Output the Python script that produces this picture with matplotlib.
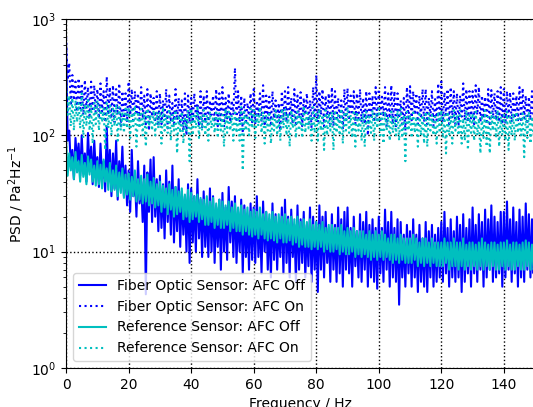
import numpy as np
import matplotlib
matplotlib.use("Agg")
import matplotlib.pyplot as plt

# ========== data (0.5 Hz steps) ==========
freq = np.arange(301) * 0.5

# fiber optic sensor, AFC off (blue solid)
fo_off = [600, 90, 110, 55, 75, 42, 95, 60, 85, 45,
          100, 48, 70, 40, 105, 52, 80, 38, 90, 50,
          65, 36, 85, 42, 60, 33, 120, 40, 75, 30,
          70, 35, 90, 28, 60, 38, 80, 30, 55, 25,
          50, 22, 75, 30, 45, 20, 60, 26, 40, 18,
          55, 4.3, 48, 22, 62, 18, 65, 20, 42, 15,
          45, 16, 38, 13, 50, 18, 40, 14, 55, 12,
          36, 15, 42, 11, 33, 14, 30, 10, 38, 8,
          35, 12, 30, 10, 42, 13, 28, 9, 33, 11,
          26, 9, 35, 10, 30, 8, 24, 11, 28, 7,
          32, 10, 24, 8.5, 36, 12, 27, 9, 30, 8,
          22, 10, 28, 6.5, 25, 9, 20, 7, 26, 8.5,
          24, 8, 30, 9, 20, 6.5, 27, 10, 22, 7,
          19, 6, 26, 8.5, 21, 7, 18, 9, 24, 6.5,
          28, 8, 20, 6, 23, 9, 17, 5.5, 25, 7,
          19, 8, 22, 6, 17, 7.5, 24, 5.5, 20, 7,
          18, 4.5, 25, 7, 20, 6, 22, 8, 16, 5.5,
          21, 7, 17, 5.5, 24, 6.5, 19, 5, 22, 7,
          24, 6.5, 16, 5, 20, 7.5, 15, 6, 21, 5.5,
          18, 7, 22, 5, 17, 6, 19, 5.5, 16, 4.8,
          20, 6.5, 16, 5.5, 23, 7, 18, 5, 22, 6,
          16, 5.5, 19, 3.5, 18, 6, 14, 5, 17, 6.5,
          15, 5, 19, 6, 14, 4.5, 17, 5.5, 13, 5,
          18, 4.5, 15, 6, 17, 5, 14, 5.5, 16, 6,
          18, 5.5, 22, 6.5, 16, 5, 19, 6, 15, 5.5,
          20, 6, 17, 4.5, 21, 5.5, 16, 6.5, 19, 5,
          24, 6.5, 17, 5.5, 21, 7, 18, 5, 23, 6,
          19, 7, 25, 5.5, 20, 6, 18, 6.5, 22, 5,
          22, 6, 27, 7, 19, 5.5, 24, 6.5, 18, 5,
          23, 6, 20, 5.5, 26, 7, 21, 6, 19, 6.5,
          21]

# fiber optic sensor, AFC on (blue dotted)
fo_on = [700, 300, 420, 180, 330, 200, 290, 160, 310, 170,
         280, 150, 300, 170, 260, 140, 290, 160, 270, 150,
         250, 140, 280, 160, 240, 130, 320, 150, 260, 140,
         270, 130, 250, 150, 280, 120, 240, 140, 230, 130,
         290, 150, 250, 135, 240, 150, 230, 130, 260, 140,
         220, 120, 250, 110, 230, 145, 210, 130, 240, 120,
         230, 125, 200, 140, 250, 115, 220, 130, 190, 120,
         250, 135, 210, 125, 200, 110, 230, 100, 220, 130,
         210, 130, 230, 145, 190, 120, 240, 115, 220, 130,
         240, 125, 200, 150, 220, 130, 250, 120, 230, 135,
         260, 120, 210, 140, 230, 130, 200, 150, 380, 130,
         240, 130, 220, 105, 210, 125, 190, 140, 230, 130,
         250, 125, 200, 150, 230, 130, 270, 120, 220, 140,
         215, 120, 240, 140, 200, 130, 190, 110, 240, 135,
         240, 130, 260, 145, 210, 125, 250, 120, 220, 140,
         235, 120, 210, 150, 230, 125, 200, 115, 260, 140,
         330, 130, 240, 150, 250, 120, 220, 140, 230, 125,
         260, 120, 240, 140, 210, 130, 200, 115, 250, 135,
         255, 135, 220, 150, 240, 125, 230, 140, 250, 130,
         210, 125, 240, 100, 230, 140, 220, 130, 260, 135,
         250, 130, 215, 145, 260, 120, 230, 140, 270, 125,
         240, 120, 230, 140, 200, 125, 210, 110, 260, 135,
         265, 135, 240, 150, 230, 125, 220, 140, 250, 130,
         250, 125, 210, 145, 240, 120, 205, 135, 280, 130,
         290, 130, 235, 150, 250, 125, 260, 140, 240, 125,
         230, 120, 220, 145, 280, 135, 250, 130, 240, 140,
         240, 125, 270, 150, 260, 130, 220, 140, 215, 125,
         250, 120, 245, 140, 230, 135, 240, 130, 260, 125,
         250, 125, 240, 145, 235, 130, 230, 140, 220, 135,
         260, 130, 255, 140, 220, 125, 215, 135, 240, 130,
         230]

# reference sensor, AFC off (cyan solid)
ref_off = [90, 45, 70, 50, 65, 42, 72, 48, 60, 40,
           68, 44, 58, 38, 66, 46, 62, 40, 55, 37,
           60, 38, 56, 35, 62, 40, 52, 34, 58, 33,
           50, 34, 55, 30, 48, 32, 52, 29, 46, 31,
           47, 28, 44, 30, 50, 27, 42, 28, 45, 26,
           42, 27, 46, 25, 40, 26, 43, 24, 38, 25,
           40, 22, 37, 24, 35, 21, 38, 23, 34, 20,
           36, 21, 33, 22, 35, 19, 31, 20, 34, 18,
           32, 19, 30, 20, 31, 18, 29, 19, 28, 17,
           30, 17, 27, 18, 29, 16, 26, 17, 28, 16,
           27, 16, 25, 17, 27, 15, 24, 16, 26, 15,
           24, 15, 25, 14, 23, 15, 24, 14, 22, 13.5,
           23, 14, 22, 13, 24, 14, 21, 13, 22, 12.5,
           21, 13, 22, 12.5, 20, 12, 21, 13, 20, 12,
           21, 12, 19, 12.5, 20, 11.5, 19, 12, 20, 11,
           18, 11.5, 19, 11, 18, 11, 19, 10.5, 17, 11,
           18, 10.5, 17, 11, 18, 10, 16, 10.5, 17, 10,
           17, 10, 16, 10.5, 16, 9.5, 17, 10, 15, 9.5,
           16, 9.5, 15, 10, 16, 9, 15, 9.5, 15, 9,
           15, 9.5, 14, 9, 15, 8.5, 14, 9, 15, 8.5,
           14, 9, 15, 8.5, 14, 9, 13, 8.5, 14, 8,
           14, 8.5, 13, 8, 14, 8.5, 13, 8, 13, 8,
           13, 8, 14, 8.5, 13, 7.5, 12, 8, 13, 7.5,
           13, 8, 12, 7.5, 13, 8, 12, 7.5, 12, 7.5,
           12, 7.5, 13, 8, 12, 7, 12, 7.5, 13, 7.5,
           12, 7, 12, 7.5, 13, 7, 11.5, 7.5, 12, 7,
           12, 7.5, 11.5, 7, 12, 7.5, 13, 7, 12, 7.5,
           11.5, 7, 12, 7.5, 12, 7, 11.5, 7, 12, 7.5,
           12, 7, 12.5, 7.5, 11.5, 7, 12, 7, 12, 7.5,
           11.5, 7, 12, 7, 12.5, 7.5, 12, 7, 11.5, 7,
           8]

# reference sensor, AFC on (cyan dotted)
ref_on = [300, 150, 220, 120, 210, 110, 200, 130, 190, 115,
          230, 95, 185, 120, 210, 110, 180, 85, 190, 125,
          200, 110, 175, 130, 170, 75, 190, 115, 180, 100,
          170, 120, 185, 90, 175, 110, 160, 105, 170, 115,
          175, 95, 165, 120, 180, 80, 160, 115, 170, 100,
          160, 80, 170, 120, 150, 110, 165, 100, 160, 115,
          160, 85, 175, 110, 150, 105, 170, 90, 150, 110,
          165, 70, 150, 105, 160, 85, 140, 110, 165, 60,
          170, 100, 155, 115, 180, 95, 150, 110, 165, 100,
          150, 90, 160, 115, 145, 105, 165, 95, 155, 110,
          150, 80, 170, 105, 160, 110, 150, 90, 165, 105,
          145, 90, 175, 50, 160, 110, 150, 100, 170, 115,
          165, 95, 150, 120, 175, 105, 160, 85, 150, 110,
          160, 85, 140, 110, 165, 100, 150, 90, 170, 115,
          170, 100, 155, 80, 165, 115, 150, 95, 160, 110,
          150, 95, 180, 105, 165, 115, 150, 90, 175, 105,
          160, 90, 170, 110, 150, 75, 165, 100, 155, 110,
          160, 75, 165, 105, 150, 100, 170, 85, 160, 110,
          175, 105, 150, 95, 165, 80, 160, 110, 145, 90,
          155, 80, 160, 110, 145, 105, 165, 90, 155, 115,
          170, 100, 155, 85, 160, 110, 145, 90, 160, 105,
          145, 100, 165, 90, 170, 95, 150, 60, 160, 110,
          150, 95, 165, 105, 145, 80, 160, 100, 150, 85,
          160, 80, 155, 110, 150, 100, 145, 85, 160, 105,
          165, 95, 150, 70, 160, 100, 145, 85, 165, 110,
          150, 100, 165, 85, 140, 90, 165, 75, 150, 105,
          155, 90, 160, 100, 140, 70, 150, 95, 165, 80,
          145, 70, 160, 110, 150, 95, 165, 80, 145, 100,
          150, 90, 160, 75, 145, 100, 155, 90, 160, 105,
          140, 100, 155, 65, 150, 95, 160, 85, 145, 100,
          150]

labels = ["Fiber Optic Sensor: AFC Off", "Fiber Optic Sensor: AFC On",
          "Reference Sensor: AFC Off", "Reference Sensor: AFC On"]

fig = plt.figure(figsize=(5.33, 4.07), dpi=100)
ax = fig.add_axes([0.124, 0.096, 0.88, 0.857])

ax.plot(freq, fo_off, color="b", lw=1.5, label=labels[0])
ax.plot(freq, fo_on, color="b", ls=":", lw=1.5, label=labels[1])
ax.plot(freq, ref_off, color="c", lw=1.5, label=labels[2])
ax.plot(freq, ref_on, color="c", ls=":", lw=1.5, label=labels[3])

ax.set_yscale("log")
ax.set_ylim(1, 1000)
ax.set_xlim(0, 150)
ax.set_xticks(np.arange(0, 141, 20))
ax.grid(True, which="major", color="k", ls=":", lw=1)
ax.set_xlabel("Frequency / Hz")
ax.set_ylabel("PSD / Pa$^2$Hz$^{-1}$")
ax.legend(loc="lower left", fontsize=10)

fig.savefig("out.png", dpi=100)
